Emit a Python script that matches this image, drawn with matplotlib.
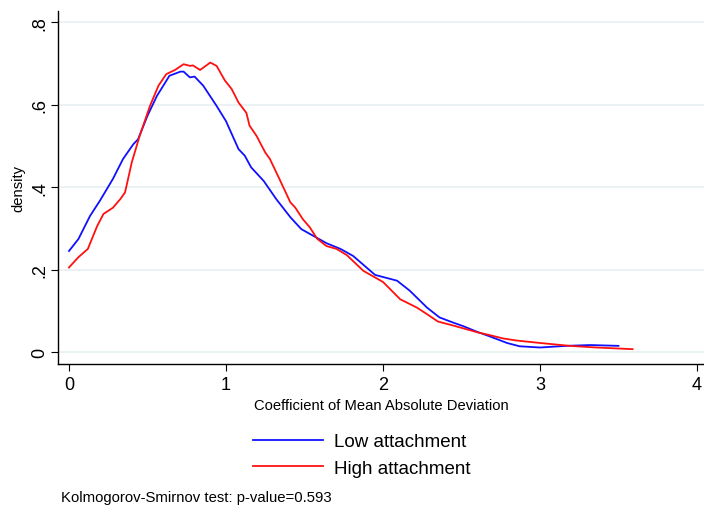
import matplotlib.pyplot as plt
from matplotlib.lines import Line2D

# kernel density curves
low_x = [0.0, 0.06, 0.134, 0.197, 0.28, 0.344, 0.41, 0.44, 0.50, 0.56, 0.64, 0.71, 0.73,
         0.77, 0.80, 0.855, 0.94, 1.0, 1.08, 1.12, 1.16, 1.24, 1.32, 1.41, 1.48, 1.56,
         1.64, 1.73, 1.81, 1.95, 2.09, 2.17, 2.28, 2.36, 2.45, 2.51, 2.60, 2.68, 2.79,
         2.87, 3.0, 3.17, 3.32, 3.50]
low_y = [0.245, 0.274, 0.33, 0.367, 0.42, 0.468, 0.504, 0.516, 0.573, 0.621, 0.67, 0.68, 0.68,
         0.666, 0.668, 0.646, 0.597, 0.56, 0.492, 0.476, 0.448, 0.415, 0.371, 0.327, 0.298, 0.281,
         0.264, 0.25, 0.233, 0.187, 0.173, 0.149, 0.108, 0.084, 0.071, 0.063, 0.049, 0.038, 0.022,
         0.014, 0.011, 0.015, 0.017, 0.015]

high_x = [0.0, 0.06, 0.12, 0.18, 0.22, 0.28, 0.325, 0.357, 0.40, 0.45, 0.516, 0.57, 0.62,
          0.675, 0.73, 0.77, 0.79, 0.835, 0.90, 0.94, 0.994, 1.036, 1.08, 1.13, 1.15, 1.195,
          1.25, 1.28, 1.34, 1.41, 1.44, 1.49, 1.535, 1.58, 1.64, 1.705, 1.77, 1.875, 2.0,
          2.11, 2.215, 2.28, 2.35, 2.45, 2.60, 2.68, 2.765, 2.85, 3.0, 3.19, 3.36, 3.59]
high_y = [0.205, 0.23, 0.25, 0.306, 0.335, 0.35, 0.37, 0.387, 0.46, 0.524, 0.597, 0.646, 0.674,
          0.684, 0.698, 0.694, 0.695, 0.684, 0.702, 0.694, 0.658, 0.638, 0.605, 0.58, 0.549, 0.524,
          0.484, 0.468, 0.42, 0.363, 0.351, 0.322, 0.302, 0.275, 0.257, 0.25, 0.235, 0.197, 0.17,
          0.128, 0.108, 0.092, 0.074, 0.064, 0.048, 0.041, 0.033, 0.028, 0.022, 0.015, 0.011, 0.007]

y_ticks = [0, 0.2, 0.4, 0.6, 0.8]
y_labels = ["0", ".2", ".4", ".6", ".8"]
x_ticks = [0, 1, 2, 3, 4]
series_names = ["Low attachment", "High attachment"]
series_colors = ["#1010ff", "#ff1010"]

plt.rcParams["font.family"] = ["Liberation Sans", "DejaVu Sans"]

fig = plt.figure(figsize=(7.04, 5.06), dpi=100)
ax = fig.add_axes([58 / 704, 141 / 506, 646 / 704, 353 / 506])

ax.plot(low_x, low_y, color=series_colors[0], lw=1.3)
ax.plot(high_x, high_y, color=series_colors[1], lw=1.3)

ax.set_xlim(-0.07, 4.045)
ax.set_ylim(-0.029, 0.827)
ax.set_xticks(x_ticks)
ax.set_xticklabels([str(t) for t in x_ticks], fontsize=13)
ax.set_yticks(y_ticks)
ax.set_yticklabels(y_labels, fontsize=13, rotation=90, va="center")
ax.tick_params(direction="out", length=5, width=0.8, color="black")
ax.tick_params(axis="y", pad=2)
ax.grid(axis="y", color="#e8f0f2", lw=1.2)
ax.set_axisbelow(True)
for s in ["top", "right"]:
    ax.spines[s].set_visible(False)
ax.spines["left"].set_linewidth(1.0)
ax.spines["bottom"].set_linewidth(1.0)

ax.set_xlabel("Coefficient of Mean Absolute Deviation", fontsize=10.6, labelpad=4)
ax.set_ylabel("density", fontsize=10.6, labelpad=4)

handles = [Line2D([], [], color=c, lw=1.3) for c in series_colors]
fig.legend(handles, series_names, loc="center", bbox_to_anchor=(0.514, 0.099),
           frameon=False, fontsize=13.5, handlelength=3.7, handletextpad=0.6,
           labelspacing=0.48)

fig.text(61 / 704, 0.015, "Kolmogorov-Smirnov test: p-value=0.593", fontsize=10.7, ha="left", va="center")

fig.savefig("out.png", dpi=100)
